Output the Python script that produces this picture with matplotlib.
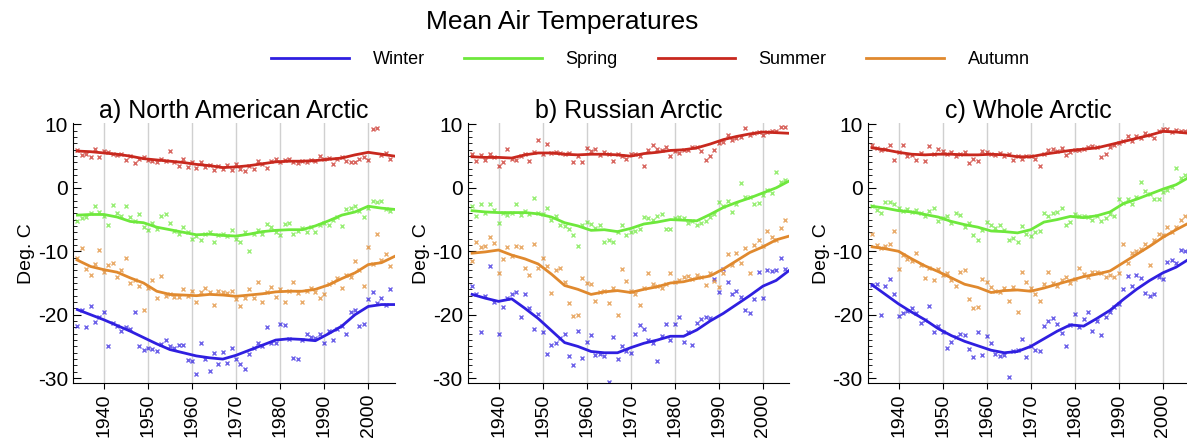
import numpy as np
import matplotlib
matplotlib.use("Agg")
import matplotlib.pyplot as plt
from matplotlib.lines import Line2D
from matplotlib.ticker import MultipleLocator

plt.rcParams['font.family'] = ['Liberation Sans', 'DejaVu Sans']
plt.rcParams['axes.unicode_minus'] = False

# years of the yearly values (crosses) and of the smoothed curves
years = list(range(1934, 2006))
line_years = list(range(1934, 2007, 3))

seasons = ["Winter", "Spring", "Summer", "Autumn"]
colors = {"Winter": "#2f1fe0", "Spring": "#6ee83c", "Summer": "#c8281e", "Autumn": "#e0892e"}
titles = ["a) North American Arctic", "b) Russian Arctic", "c) Whole Arctic"]

# ---------------- a) North American Arctic ----------------
na_summer = [5.9, 5.2, 5.3, 4.8, 6.2, 4.8, 5.8, 5.6, 5.4, 5.2, 5.3, 4.4, 5.0, 3.9, 4.6, 4.8, 4.4, 4.2,
             4.1, 4.6, 4.3, 5.8, 4.0, 3.5, 4.6, 3.3, 4.1, 3.2, 4.0, 3.3, 3.6, 2.8, 3.4, 2.9, 3.6, 2.8,
             3.8, 2.9, 2.7, 3.5, 3.0, 4.3, 3.8, 3.2, 4.2, 4.6, 4.1, 4.4, 4.6, 4.0, 3.9, 4.2, 4.0, 4.4,
             4.3, 5.0, 4.5, 4.7, 3.7, 4.6, 4.9, 4.3, 4.1, 4.0, 4.5, 4.8, 4.4, 9.3, 9.5, 5.2, 5.5, 4.5]
na_spring = [-5.2, -4.8, -4.6, -4.0, -2.8, -3.8, -4.5, -5.8, -2.7, -4.0, -4.4, -2.8, -4.6, -5.3, -4.2,
             -6.2, -6.7, -5.5, -6.5, -4.5, -4.2, -5.6, -6.8, -7.2, -6.2, -7.0, -8.0, -7.6, -8.3, -7.2,
             -7.0, -8.5, -7.5, -7.3, -7.6, -6.6, -8.0, -8.5, -7.0, -10.0, -7.2, -6.6, -7.2, -5.7, -6.2,
             -7.0, -7.5, -5.7, -5.5, -7.3, -6.8, -6.4, -7.0, -6.2, -7.0, -5.8, -5.5, -5.8, -5.0, -4.6,
             -6.0, -3.3, -3.2, -2.8, -3.6, -4.6, -3.2, -2.1, -2.2, -2.0, -3.4, -3.6]
na_autumn = [-11.0, -9.5, -12.8, -13.8, -12.0, -9.8, -13.3, -12.2, -11.8, -14.0, -13.0, -11.0, -15.0,
             -14.5, -15.5, -19.3, -15.8, -14.6, -17.3, -13.9, -17.0, -16.8, -17.2, -17.2, -16.0, -17.0,
             -16.2, -18.0, -16.4, -15.8, -16.5, -18.5, -16.2, -16.5, -16.6, -16.2, -17.6, -18.6, -17.4,
             -15.9, -17.3, -14.8, -18.0, -16.4, -15.7, -17.2, -15.9, -18.0, -16.2, -14.9, -16.6, -18.0,
             -16.2, -15.8, -16.5, -17.3, -16.8, -15.2, -14.8, -14.2, -15.8, -13.7, -14.0, -11.5, -13.0,
             -15.5, -9.4, -12.0, -7.2, -11.4, -10.4, -12.3]
na_winter = [-21.8, -19.2, -22.0, -18.7, -21.2, -20.3, -19.6, -25.0, -21.3, -21.8, -22.5, -22.0, -22.2,
             -19.5, -25.0, -25.5, -25.2, -25.4, -25.7, -24.6, -24.0, -25.0, -25.2, -24.8, -24.8, -27.2,
             -27.3, -29.3, -24.5, -27.0, -28.8, -26.0, -27.8, -25.9, -27.6, -25.2, -27.0, -27.8, -28.5,
             -26.2, -25.3, -24.5, -25.0, -22.0, -24.5, -24.5, -21.5, -21.7, -23.8, -26.8, -27.0, -24.0,
             -23.0, -23.5, -23.6, -23.1, -24.5, -22.5, -24.0, -22.3, -21.8, -23.0, -19.5, -19.3, -21.8,
             -21.5, -17.5, -16.5, -18.2, -17.3, -18.5, -16.0]
na_summer_line = [5.8, 5.7, 5.5, 5.3, 5.0, 4.6, 4.4, 4.2, 4.0, 3.7, 3.5, 3.2, 3.3, 3.5, 3.8, 4.1, 4.2,
                  4.2, 4.3, 4.5, 4.7, 5.2, 5.6, 5.3, 5.0]
na_spring_line = [-4.3, -4.2, -4.2, -4.6, -5.3, -5.5, -6.2, -6.6, -7.0, -7.4, -7.3, -7.5, -7.6, -7.3,
                  -6.9, -6.7, -6.6, -6.6, -6.0, -5.2, -4.3, -3.8, -2.9, -3.2, -3.4]
na_autumn_line = [-11.4, -12.4, -12.9, -13.3, -14.2, -15.0, -16.3, -16.8, -16.9, -17.0, -16.8, -16.9,
                  -17.1, -16.9, -16.7, -16.4, -16.3, -16.3, -16.0, -15.3, -14.3, -13.4, -12.1, -11.8,
                  -10.8]
na_winter_line = [-19.2, -20.0, -20.8, -21.7, -22.6, -23.6, -24.6, -25.5, -26.0, -26.5, -26.8, -27.0,
                  -26.4, -25.6, -24.8, -24.0, -23.8, -23.9, -24.1, -23.0, -21.8, -20.0, -18.7, -18.4,
                  -18.4]

# ---------------- b) Russian Arctic ----------------
ru_summer = [5.3, 4.3, 5.2, 4.4, 5.3, 4.8, 3.5, 4.0, 6.2, 4.5, 4.4, 5.0, 5.3, 4.2, 5.6, 7.6, 5.4, 6.9,
             5.5, 5.7, 5.5, 5.3, 5.5, 4.0, 5.0, 4.1, 6.3, 5.8, 6.1, 5.2, 5.6, 5.4, 4.3, 5.4, 5.0, 4.5,
             5.3, 5.3, 5.0, 3.4, 6.0, 6.7, 6.1, 5.9, 6.5, 5.0, 5.8, 5.5, 6.0, 6.0, 6.5, 6.4, 5.8, 4.4,
             5.0, 6.0, 7.0, 7.3, 8.3, 7.5, 7.9, 8.0, 9.5, 8.4, 8.6, 8.8, 8.3, 8.8, 8.9, 9.0, 9.6, 9.6]
ru_spring = [-2.8, -4.5, -2.5, -4.0, -2.6, -3.5, -5.5, -4.0, -4.3, -4.0, -2.6, -4.3, -3.7, -4.2, -1.6,
             -3.9, -4.2, -3.2, -5.0, -4.5, -5.8, -6.0, -6.5, -7.4, -9.2, -5.8, -5.4, -5.7, -6.3, -5.9,
             -8.6, -8.3, -8.6, -7.0, -5.9, -7.4, -7.0, -6.8, -6.5, -4.6, -4.8, -5.0, -4.4, -4.2, -6.5,
             -6.5, -4.8, -4.6, -4.8, -5.5, -5.3, -5.8, -5.6, -5.2, -4.6, -4.2, -2.2, -2.8, -2.0, -3.8,
             -2.6, 0.7, -1.5, -1.4, -2.6, -2.4, -1.2, -0.3, -0.8, 2.5, 1.0, 1.2]
ru_autumn = [-11.5, -8.6, -9.4, -9.1, -7.8, -8.7, -13.5, -11.2, -9.3, -10.7, -9.1, -9.3, -12.6, -13.8,
             -8.8, -12.6, -11.0, -12.4, -16.6, -13.0, -12.6, -14.8, -18.2, -20.2, -20.0, -14.2, -15.0,
             -15.2, -17.8, -16.4, -16.2, -18.2, -15.8, -20.0, -12.8, -14.7, -16.2, -16.8, -18.4, -15.8,
             -13.4, -15.2, -15.5, -15.8, -15.2, -13.5, -14.8, -14.6, -14.0, -13.9, -14.3, -13.8, -14.1,
             -15.3, -13.5, -14.7, -15.6, -13.5, -10.5, -12.2, -10.2, -11.8, -9.5, -13.4, -9.0, -8.3,
             -9.2, -6.8, -7.8, -8.3, -6.4, -5.0]
ru_winter = [-15.5, -16.8, -22.7, -17.0, -12.3, -18.0, -23.0, -18.8, -17.4, -16.8, -16.5, -20.3, -16.8,
             -19.0, -22.2, -19.9, -22.8, -26.2, -24.8, -24.4, -23.6, -23.0, -26.5, -28.0, -22.6, -26.8,
             -24.3, -23.2, -26.4, -26.2, -26.5, -30.6, -23.5, -27.0, -25.0, -25.8, -26.0, -23.0, -21.7,
             -22.2, -24.0, -24.4, -27.3, -23.4, -21.5, -24.0, -21.5, -20.3, -24.3, -22.8, -24.8, -21.3,
             -20.7, -20.3, -20.5, -14.4, -16.5, -12.8, -14.9, -16.8, -16.3, -17.2, -19.2, -19.8, -17.5,
             -13.2, -17.4, -13.0, -13.1, -13.0, -11.0, -12.8]
ru_summer_line = [4.9, 4.8, 4.8, 4.7, 5.2, 5.5, 5.5, 5.3, 5.2, 5.3, 5.3, 5.2, 5.0, 5.4, 5.6, 5.9, 6.0,
                  6.3, 6.9, 7.6, 8.1, 8.5, 8.8, 8.7, 8.6]
ru_spring_line = [-3.6, -3.8, -3.9, -3.9, -3.9, -4.1, -4.6, -5.5, -6.0, -6.7, -6.6, -6.9, -6.4, -5.7,
                  -5.4, -5.0, -5.1, -5.2, -4.2, -3.1, -2.3, -1.6, -0.8, 0.0, 1.1]
ru_autumn_line = [-10.3, -10.1, -9.8, -10.6, -11.2, -12.0, -13.6, -15.4, -16.0, -16.8, -16.4, -16.2,
                  -16.5, -16.0, -15.6, -15.0, -14.8, -14.3, -13.9, -12.8, -11.5, -10.2, -9.3, -8.2, -7.6]
ru_winter_line = [-16.8, -17.4, -17.9, -17.5, -19.0, -20.6, -22.5, -24.4, -25.0, -25.8, -26.0, -26.0,
                  -25.2, -24.5, -24.0, -23.4, -23.4, -22.4, -21.0, -19.8, -18.4, -17.0, -15.5, -14.6,
                  -13.0]

# ---------------- c) Whole Arctic ----------------
wa_summer = [6.7, 6.3, 6.0, 6.1, 6.8, 4.4, 5.7, 6.7, 5.0, 5.2, 4.4, 5.5, 4.2, 6.6, 5.3, 6.1, 5.8, 5.4,
             5.6, 5.0, 5.4, 5.6, 3.9, 4.6, 4.3, 5.8, 5.7, 5.4, 5.2, 5.5, 5.0, 5.4, 4.4, 5.0, 4.6, 5.1,
             5.0, 4.6, 3.4, 5.3, 6.0, 6.2, 5.8, 6.3, 5.2, 5.6, 6.0, 6.0, 6.2, 6.4, 6.6, 6.4, 4.8, 5.3,
             6.4, 6.7, 7.0, 7.4, 8.1, 7.4, 8.2, 7.8, 8.6, 8.3, 7.8, 8.9, 9.3, 9.3, 8.8, 9.1, 8.9, 9.0]
wa_spring = [-2.8, -3.5, -4.0, -2.2, -2.3, -2.5, -3.2, -3.7, -3.4, -3.8, -3.5, -4.0, -4.5, -3.6, -3.2,
             -5.3, -4.8, -4.5, -5.5, -4.0, -4.3, -6.2, -5.6, -7.4, -8.2, -6.6, -5.4, -5.9, -6.4, -5.8,
             -6.6, -8.2, -7.9, -8.5, -6.0, -7.2, -7.6, -7.0, -6.8, -3.9, -4.4, -4.0, -3.8, -3.2, -5.8,
             -5.4, -4.2, -4.4, -4.5, -4.6, -5.0, -4.4, -5.3, -4.8, -4.2, -4.5, -1.8, -2.4, -1.8, -2.5,
             -1.5, 0.9, -0.5, -1.0, -1.8, -1.7, -0.6, -0.3, 0.2, 3.2, 1.5, 2.0]
wa_autumn = [-7.2, -9.0, -9.5, -9.2, -8.8, -6.8, -12.8, -10.6, -11.2, -11.6, -10.3, -12.2, -14.2, -12.6,
             -14.6, -12.8, -13.8, -13.4, -14.5, -15.4, -13.3, -13.0, -17.6, -19.0, -18.8, -14.4, -14.8,
             -15.6, -16.2, -16.5, -15.8, -17.8, -15.6, -19.6, -13.3, -14.8, -15.8, -16.8, -17.8, -15.2,
             -13.2, -15.0, -15.5, -14.6, -14.0, -15.0, -14.3, -12.6, -13.6, -14.1, -13.3, -13.2, -13.4,
             -14.0, -13.7, -14.0, -13.4, -8.9, -11.8, -10.2, -10.0, -9.6, -8.8, -12.2, -8.2, -7.2, -7.5,
             -6.2, -7.0, -6.2, -5.0, -4.4]
wa_winter = [-15.3, -15.2, -20.0, -15.5, -14.4, -16.8, -20.2, -19.8, -19.4, -19.0, -19.7, -21.3, -20.9,
             -18.7, -22.8, -21.8, -22.8, -25.2, -24.3, -23.5, -23.1, -23.2, -25.4, -26.6, -22.8, -26.3,
             -23.3, -24.4, -26.2, -26.5, -26.3, -29.8, -25.7, -25.5, -23.9, -26.6, -25.0, -25.6, -25.7,
             -21.8, -21.0, -20.5, -21.4, -22.9, -24.9, -21.7, -19.9, -22.0, -20.6, -19.5, -22.5, -21.0,
             -23.2, -20.3, -19.6, -18.8, -18.3, -16.0, -13.9, -15.4, -13.8, -14.2, -16.6, -17.0, -16.8,
             -14.0, -14.4, -11.7, -11.4, -11.8, -9.8, -10.0]
wa_summer_line = [6.3, 6.0, 5.6, 5.3, 5.2, 5.3, 5.3, 5.2, 5.2, 5.3, 5.2, 4.9, 4.9, 5.3, 5.6, 5.9, 6.1,
                  6.3, 6.8, 7.3, 7.8, 8.3, 8.9, 8.8, 8.6]
wa_spring_line = [-2.9, -3.2, -3.6, -3.8, -4.2, -4.6, -5.3, -5.8, -6.2, -6.8, -6.9, -7.1, -6.6, -5.4,
                  -5.0, -4.5, -4.7, -4.4, -3.8, -2.5, -1.8, -1.0, -0.2, 0.5, 1.7]
wa_autumn_line = [-9.3, -9.6, -10.0, -11.2, -12.3, -13.2, -14.2, -15.2, -15.7, -16.5, -16.2, -16.1,
                  -16.3, -15.8, -15.2, -14.6, -14.0, -13.6, -13.1, -11.8, -10.5, -9.2, -7.8, -6.6, -5.5]
wa_winter_line = [-15.3, -16.8, -18.3, -19.6, -20.8, -22.2, -23.3, -24.2, -24.9, -25.6, -26.0, -25.8,
                  -25.0, -23.8, -22.6, -21.6, -21.8, -20.6, -19.3, -17.6, -16.0, -14.6, -13.4, -12.5,
                  -11.2]

panels = [
    {"Winter": (na_winter, na_winter_line), "Spring": (na_spring, na_spring_line),
     "Summer": (na_summer, na_summer_line), "Autumn": (na_autumn, na_autumn_line)},
    {"Winter": (ru_winter, ru_winter_line), "Spring": (ru_spring, ru_spring_line),
     "Summer": (ru_summer, ru_summer_line), "Autumn": (ru_autumn, ru_autumn_line)},
    {"Winter": (wa_winter, wa_winter_line), "Spring": (wa_spring, wa_spring_line),
     "Summer": (wa_summer, wa_summer_line), "Autumn": (wa_autumn, wa_autumn_line)},
]

fig = plt.figure(figsize=(11.87, 4.43), dpi=100)
lefts = [0.0615, 0.394, 0.731]

for i in range(3):
    ax = fig.add_axes([lefts[i], 0.135, 0.271, 0.587])
    for s in seasons:
        pts, ln = panels[i][s]
        ax.plot(years, pts, 'x', color=colors[s], ms=3.2, mew=1, alpha=0.7)
        ax.plot(line_years, ln, '-', color=colors[s], lw=2)
    ax.set_xlim(1933, 2006)
    ax.set_ylim(-30.8, 10.2)
    ax.set_xticks([1940, 1950, 1960, 1970, 1980, 1990, 2000])
    ax.set_yticks([10, 0, -10, -20, -30])
    ax.yaxis.set_minor_locator(MultipleLocator(1))
    ax.tick_params(axis='x', labelrotation=90, labelsize=14, length=4, direction='out')
    ax.tick_params(axis='y', which='major', labelsize=15, length=6, direction='in')
    ax.tick_params(axis='y', which='minor', length=3, direction='in')
    ax.grid(axis='x', color='#d0d0d0', lw=1)
    ax.spines['top'].set_visible(False)
    ax.spines['right'].set_visible(False)
    ax.set_ylabel("Deg. C", fontsize=14, labelpad=2)
    ax.set_title(titles[i], fontsize=18, pad=4)

fig.text(0.474, 0.95, "Mean Air Temperatures", ha='center', va='center', fontsize=19)

handles = [Line2D([], [], color=colors[s], lw=2) for s in seasons]
fig.legend(handles, seasons, loc='center', bbox_to_anchor=(0.548, 0.865), ncol=4, frameon=False,
           fontsize=13, handlelength=4.3, handletextpad=1.3, columnspacing=2.2)

plt.savefig("out.png", dpi=100)
